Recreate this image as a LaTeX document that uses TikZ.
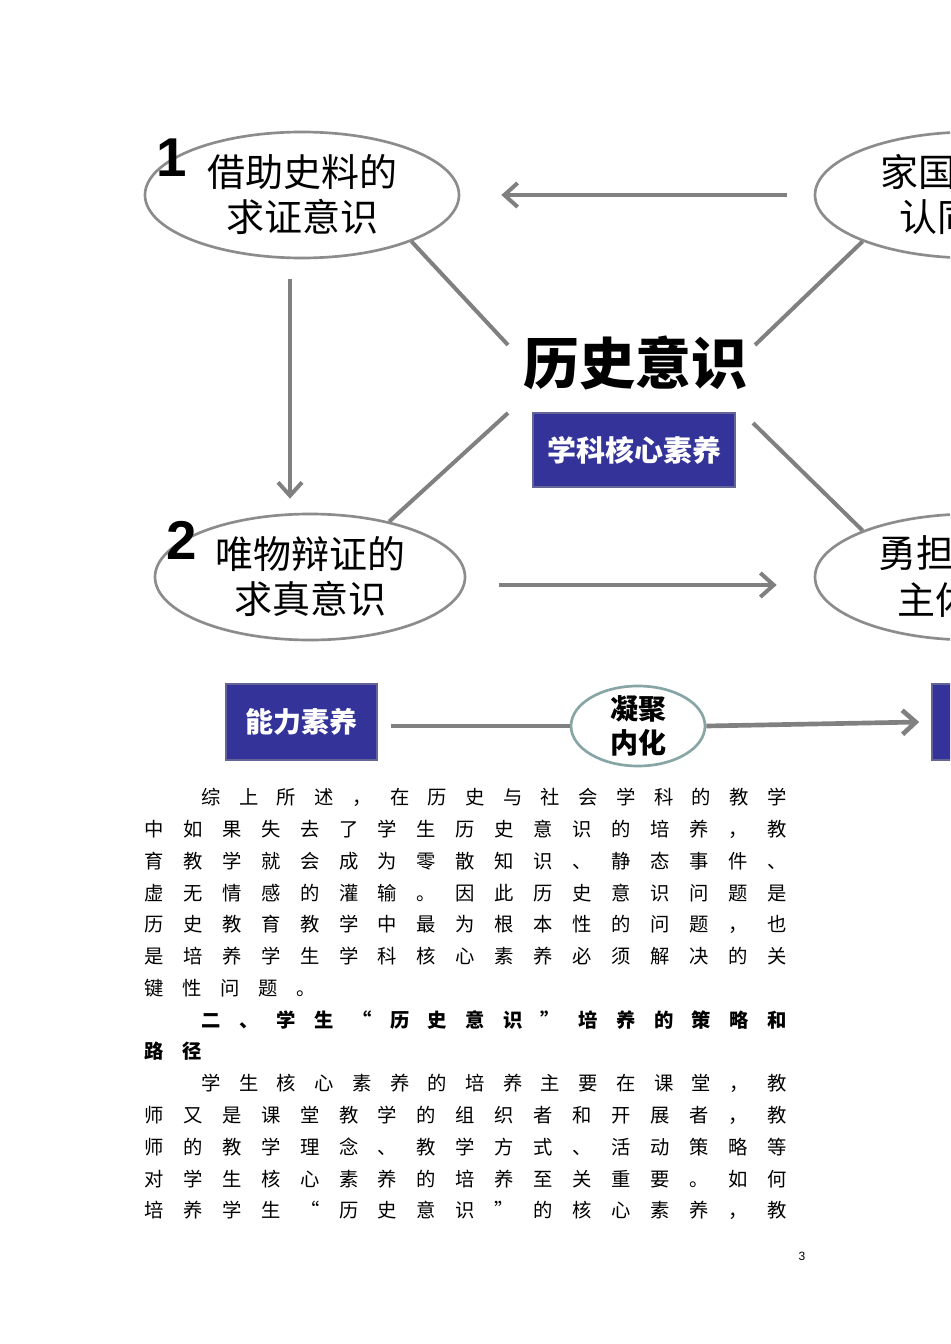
\documentclass[tikz,border=0pt]{standalone}
\usepackage{fontspec}
\setmainfont{Liberation Sans}
\newfontfamily\cjk{Noto Sans CJK SC}
\usetikzlibrary{arrows.meta,shapes.geometric,calc}
\definecolor{navy}{RGB}{51,51,153}
\definecolor{navyedge}{RGB}{100,100,150}
\definecolor{lgray}{RGB}{128,128,128}
\definecolor{egray}{RGB}{140,140,140}
\definecolor{tealgray}{RGB}{135,165,165}
\newcommand\bodyrow[6]{%
  \foreach \ch [count=\k from 0] in {#6} {%
    \node[body,#1] (t#2-\k) at ({#3+(#4-#3)*\k/(#5-1)},#2) {\ch};}}
\begin{document}
\begin{tikzpicture}[x=0.75pt,y=-0.75pt,
  conn/.style={draw=lgray,line width=3pt},
  arr/.style={conn,-{Straight Barb[length=10pt,width=18pt]}},
  oval/.style={ellipse,draw=egray,line width=2pt,fill=white,minimum width=235.5pt,minimum height=94.5pt,inner sep=0},
  ovaltext/.style={font=\cjk\fontsize{28.5}{33.75}\selectfont,align=center,inner sep=0},
  bluebox/.style={draw=navyedge,line width=1.2pt,fill=navy,text=white,inner sep=0},
  num/.style={font=\bfseries\fontsize{41}{41}\selectfont,inner sep=0},
  body/.style={font=\cjk\fontsize{14.5}{14.5}\selectfont,inner sep=0,text height=0.88em,text depth=0.12em,anchor=center,yshift=-1.5pt},
  bold/.style={font=\cjk\bfseries\fontsize{14.5}{14.5}\selectfont}
]
\fill[white] (0,0) rectangle (950,1344);
\useasboundingbox (0,0) rectangle (950,1344);
\clip (0,0) rectangle (950,1344);

% ellipses
\node[oval] (e1) at (302,195) {};
\node[oval,minimum width=232.5pt] (e2) at (310,577) {};
\node[oval] (e3) at (972,195) {};
\node[oval] (e4) at (972,577) {};
\node[ovaltext] (e1t) at (302,195) {借助史料的\\求证意识};
\node[ovaltext] (e2t) at (310,577) {唯物辩证的\\求真意识};
\node[ovaltext,anchor=west] (e3a) at (880,172) {家国};
\node[ovaltext,anchor=west] (e3b) at (899,217) {认同};
\node[ovaltext,anchor=west] (e4a) at (878,553) {勇担};
\node[ovaltext,anchor=west] (e4b) at (897,600) {主体};
\node[num] (n1) at (172,158) {1};
\node[num] (n2) at (182,540) {2};

% centre
\node[font=\cjk\bfseries\fontsize{42}{42}\selectfont,inner sep=0] (ct) at (635,363) {历史意识};
\node[bluebox,minimum width=151.5pt,minimum height=55.5pt,font=\cjk\bfseries\fontsize{21.75}{24}\selectfont] (cb) at (634,450) {学科核心素养};

\coordinate (h1) at (508,345);
\coordinate (h2) at (508,413);
\coordinate (h3) at (755,345);
\coordinate (h4) at (753,423);
\draw[conn] (e1.-23) -- (h1);
\draw[conn] (e2.35) -- (h2);
\draw[conn] (e3.-157) -- (h3);
\draw[conn] (e4.157) -- (h4);

\draw[arr] ($(e3.west)+(-20.25pt,0)$) -- ($(e1.east)+(30.75pt,0)$);
\draw[arr] ($(e1.south)+(-9pt,-15pt)$) -- ($(e1.south |- e2.north)+(-9pt,10.5pt)$);
\draw[arr] ($(e2.east)+(24.75pt,-6pt)$) -- ($(e4.west)+(-27.75pt,-6pt)$);

% bottom row
\node[bluebox,minimum width=113.25pt,minimum height=57pt,font=\cjk\bfseries\fontsize{21}{24}\selectfont] (b1) at (301.5,722) {能力素养};
\node[bluebox,minimum width=113.25pt,minimum height=57pt] (b2) at (1007.5,722) {};
\node[ellipse,draw=tealgray,line width=2pt,fill=white,minimum width=100.5pt,minimum height=60pt,inner sep=0] (e5) at (638,726) {};
\node[font=\cjk\bfseries\fontsize{21}{26}\selectfont,align=center,inner sep=0] (e5t) at (638,726) {凝聚\\内化};
\draw[conn,line width=3.5pt] ($(b1.east)+(9.75pt,-3pt)$) -- (e5.west);
\draw[arr,line width=3.5pt] (e5.east) -- ($(b2.west)+(-9pt,0)$);

% body text
\bodyrow{}{797}{211}{777}{16}{综,上,所,述,，,在,历,史,与,社,会,学,科,的,教,学}
\bodyrow{}{829}{154}{777}{17}{中,如,果,失,去,了,学,生,历,史,意,识,的,培,养,，,教}
\bodyrow{}{861}{154}{777}{17}{育,教,学,就,会,成,为,零,散,知,识,、,静,态,事,件,、}
\bodyrow{}{893}{154}{777}{17}{虚,无,情,感,的,灌,输,。,因,此,历,史,意,识,问,题,是}
\bodyrow{}{924}{154}{777}{17}{历,史,教,育,教,学,中,最,为,根,本,性,的,问,题,，,也}
\bodyrow{}{956}{154}{777}{17}{是,培,养,学,生,学,科,核,心,素,养,必,须,解,决,的,关}
\bodyrow{}{988}{154}{306}{5}{键,性,问,题,。}
\bodyrow{bold}{1020}{211}{777}{16}{二,、,学,生,“,历,史,意,识,”,培,养,的,策,略,和}
\bodyrow{bold}{1051}{154}{192}{2}{路,径}
\bodyrow{}{1083}{211}{777}{16}{学,生,核,心,素,养,的,培,养,主,要,在,课,堂,，,教}
\bodyrow{}{1115}{154}{777}{17}{师,又,是,课,堂,教,学,的,组,织,者,和,开,展,者,，,教}
\bodyrow{}{1147}{154}{777}{17}{师,的,教,学,理,念,、,教,学,方,式,、,活,动,策,略,等}
\bodyrow{}{1179}{154}{777}{17}{对,学,生,核,心,素,养,的,培,养,至,关,重,要,。,如,何}
\bodyrow{}{1210}{154}{777}{17}{培,养,学,生,“,历,史,意,识,”,的,核,心,素,养,，,教}

\node[font=\fontsize{9}{9}\selectfont,inner sep=0] (pg) at (802,1256) {3};
\end{tikzpicture}
\end{document}
